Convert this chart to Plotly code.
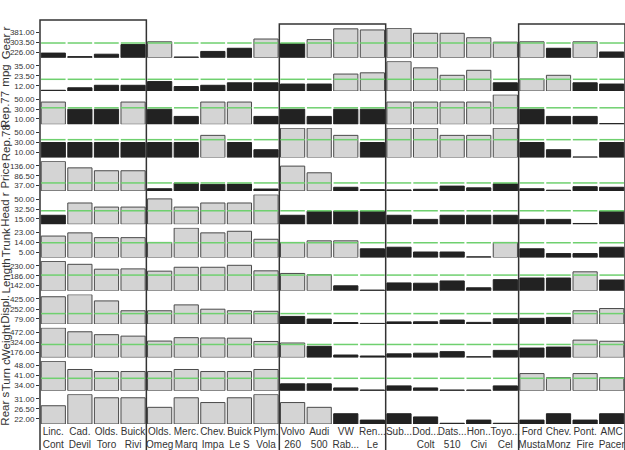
import plotly.graph_objects as go
from plotly.subplots import make_subplots

# ---------------- data ----------------
cars = ["Linc.<br>Cont", "Cad.<br>Devil", "Olds.<br>Toro", "Buick<br>Rivi",
        "Olds.<br>Omeg", "Merc.<br>Marq", "Chev.<br>Impa", "Buick<br>Le S", "Plym.<br>Vola",
        "Volvo<br>260", "Audi<br>500", "VW<br>Rab...", "Ren...<br>Le",
        "Sub...<br> ", "Dod...<br>Colt", "Dats...<br>510", "Hon..<br>Civi", "Toyo...<br>Cel",
        "Ford<br>Musta", "Chev.<br>Monz", "Pont.<br>Fire", "AMC<br>Pacer"]

gear_r = [247, 228, 241, 293, 308, 226, 256, 273, 323, 298, 320, 378, 372, 381, 354, 354, 330, 306, 308, 273, 308, 253]
mpg    = [12, 14, 16, 16, 19, 15, 16, 18, 18, 17, 17, 25, 26, 35, 30, 24, 28, 18, 21, 24, 18, 17]
rep77  = [40, 30, 30, 40, 30, 20, 40, 40, 20, 30, 20, 30, 30, 40, 40, 40, 40, 50, 30, 20, 20, 10]
rep78  = [30, 30, 30, 30, 30, 30, 40, 30, 20, 50, 50, 40, 30, 50, 50, 40, 40, 50, 30, 20, 10, 30]
price  = [136, 114, 104, 104, 42, 62, 57, 58, 41, 120, 97, 47, 39, 38, 40, 51, 45, 59, 42, 37, 49, 47]
head_r = [25, 40, 35, 35, 45, 35, 40, 40, 50, 25, 30, 30, 30, 25, 20, 25, 25, 25, 20, 20, 15, 30]
trunk  = [18, 20, 17, 17, 14, 23, 20, 21, 16, 14, 15, 15, 10, 11, 8, 8, 5, 14, 10, 7, 7, 11]
length = [230, 221, 206, 207, 200, 212, 212, 218, 201, 193, 189, 155, 142, 164, 163, 170, 149, 174, 179, 179, 198, 173]
displ  = [400, 425, 350, 231, 231, 302, 250, 231, 225, 163, 131, 89, 79, 97, 98, 119, 91, 134, 140, 151, 231, 258]
weight = [472, 433, 403, 388, 337, 372, 369, 367, 333, 317, 283, 193, 183, 205, 212, 228, 176, 241, 265, 275, 347, 335]
turn_c = [48, 44, 43, 43, 43, 44, 43, 43, 44, 37, 37, 35, 34, 36, 35, 34, 34, 36, 42, 40, 42, 40]
rear_s = [27.5, 31, 30, 30, 27, 30, 28.5, 30, 31, 28.5, 27, 25, 23, 25, 24, 22, 23, 22, 23, 25, 23, 25]

var_names = ["Gear r", "mpg", "Rep.77", "Rep.78", "Price", "Head r",
             "Trunk", "Length", "Displ.", "Weight", "Turn c", "Rear s"]
var_series = [gear_r, mpg, rep77, rep78, price, head_r, trunk, length, displ, weight, turn_c, rear_s]
var_min = [226, 12, 10, 10, 37, 15, 5, 142, 79, 176, 34, 22]
var_max = [381, 35, 50, 50, 136, 50, 23, 230, 425, 472, 48, 31]
var_mean = [301.5, 20.8, 32, 34, 62, 30.5, 13.8, 188, 197, 302, 39.7, 26]
show_mean = [True] * 11 + [False]

# groups of columns drawn with a frame: (first, last, top pixel)
frames = [(0, 3, 20), (9, 12, 24), (18, 21, 24)]

# ---------------- layout constants ----------------
W, H = 625, 450
ML, MR, MT, MB = 40, 0, 28, 26
PH = H - MT - MB
nrows = len(var_names)
gap_px = 3.6

GRAY = "#d4d4d4"
GRAY_LINE = "#4a4a4a"
DARK = "#222222"
GREEN = "#6fd06f"
TXT = "#333333"
FONT = "Liberation Sans, Arial, sans-serif"

fig = make_subplots(rows=nrows, cols=1, shared_xaxes=True,
                    vertical_spacing=gap_px / PH)

for i, (name, vals) in enumerate(zip(var_names, var_series)):
    r = i + 1
    lo, hi = var_min[i], var_max[i]
    span = hi - lo
    rlo = lo - 0.025 * span
    rhi = hi + 0.01 * span
    thr = var_mean[i]
    fills = [GRAY if v > thr else DARK for v in vals]
    lines = [GRAY_LINE if v > thr else DARK for v in vals]
    fig.add_trace(go.Bar(
        x=cars, y=[v - rlo for v in vals], base=rlo,
        marker=dict(color=fills, line=dict(color=lines, width=1)),
        showlegend=False, hoverinfo="skip"), row=r, col=1)
    if show_mean[i]:
        fig.add_trace(go.Scatter(
            x=cars, y=[thr] * len(cars), mode="markers",
            marker=dict(symbol="line-ew", size=17.5,
                        line=dict(color=GREEN, width=1.5)),
            showlegend=False, hoverinfo="skip", cliponaxis=False), row=r, col=1)
    mid = (lo + hi) / 2
    fig.update_yaxes(row=r, col=1, range=[rlo, rhi], automargin=False,
                     tickvals=[lo + 0.16 * span, mid, hi - 0.15 * span],
                     ticktext=[f"{lo:.2f}", f"{mid:.2f}", f"{hi:.2f}"],
                     ticks="outside", ticklen=3, tickcolor=TXT, tickwidth=1,
                     tickfont=dict(size=8, color=TXT, family=FONT),
                     showgrid=False, zeroline=False, showline=False)
    yref = "y domain" if r == 1 else f"y{r} domain"
    fig.add_annotation(text=name, xref="paper", yref=yref, x=0, y=0.5,
                       xshift=-34.5, textangle=-90, showarrow=False,
                       xanchor="center", yanchor="middle",
                       font=dict(size=11.5, color=TXT, family=FONT))

fig.update_xaxes(showgrid=False, zeroline=False, showline=False, ticks="",
                 showticklabels=False, automargin=False,
                 range=[-0.5, len(cars) - 0.5])
fig.update_xaxes(row=nrows, col=1, showticklabels=True,
                 tickfont=dict(size=10, color=TXT, family=FONT), tickangle=0)

# frames around column groups
ncol = len(cars)
for c0, c1, top_px in frames:
    fig.add_shape(type="rect", xref="paper", yref="paper",
                  x0=c0 / ncol, x1=(c1 + 1) / ncol,
                  y0=-(MB + 10) / PH, y1=1 + (MT - top_px) / PH,
                  line=dict(color="#333333", width=1.5), fillcolor="rgba(0,0,0,0)",
                  layer="above")

fig.update_layout(width=W, height=H, margin=dict(l=ML, r=MR, t=MT, b=MB),
                  plot_bgcolor="white", paper_bgcolor="white",
                  bargap=0.09, showlegend=False,
                  font=dict(family=FONT, color=TXT))

fig.write_html("out.html")
